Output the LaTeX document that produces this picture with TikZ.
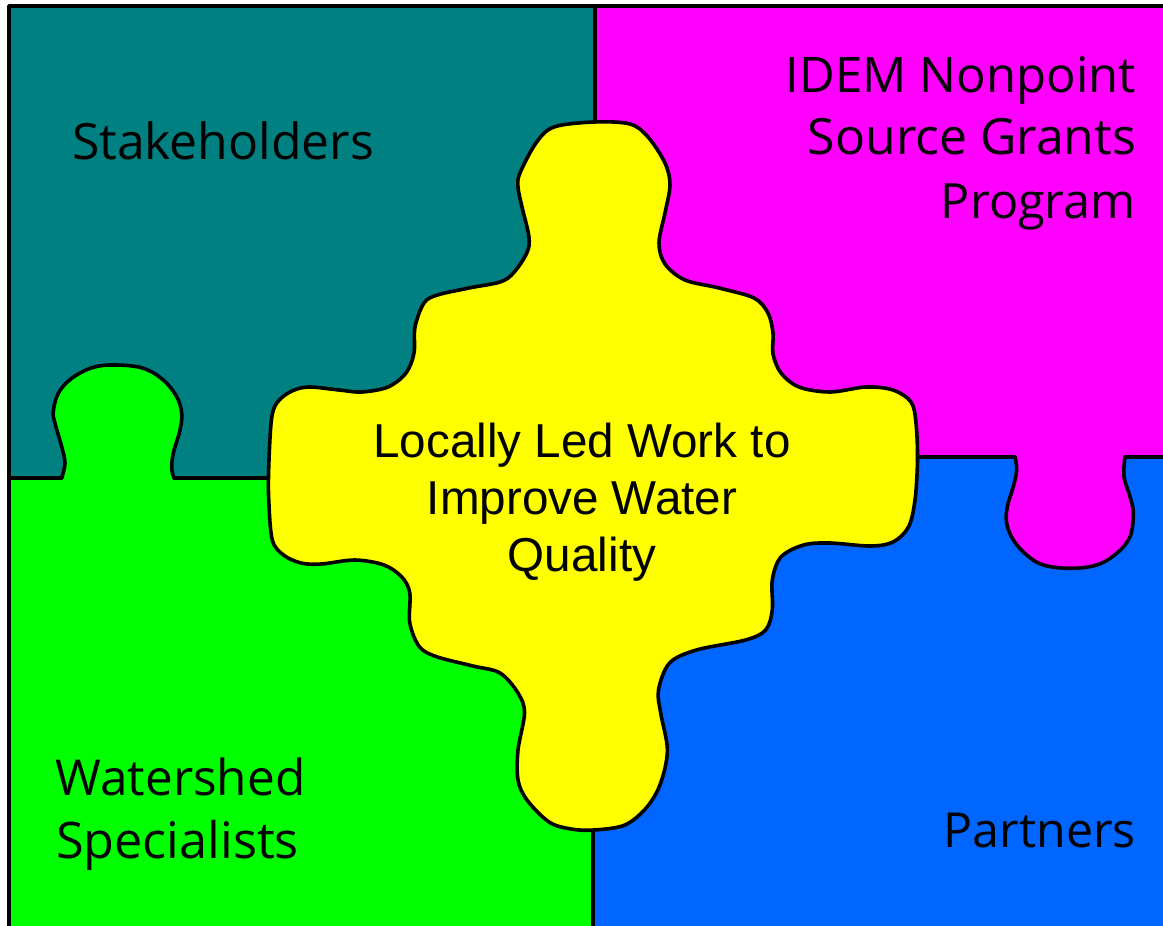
\documentclass[tikz,border=0pt]{standalone}
\usepackage{fontspec}
\usepackage{graphicx}
\newfontfamily\lblfont{Open Sans}
\newfontfamily\ctrfont{Liberation Sans}
\definecolor{tealc}{HTML}{008080}
\definecolor{magc}{HTML}{FF00FF}
\definecolor{greenc}{HTML}{00FF00}
\definecolor{bluec}{HTML}{0066FF}
\definecolor{yellowc}{HTML}{FFFF00}
\newcommand{\fitw}[2]{\resizebox{#1}{!}{\lblfont #2}}
\newcommand{\ctrtxt}[1]{\ctrfont\fontsize{47.6}{57}\selectfont #1}
\tikzset{
  edge/.style={line width=3.6pt, line join=round, line cap=round, draw=black},
  lbl/.style={inner sep=0pt, outer sep=0pt},
}
\begin{document}
\begin{tikzpicture}[x=1pt,y=-1pt]
\useasboundingbox (0,0) rectangle (1163,926);
\clip (0,0) rectangle (1163,926);
\fill[white] (0,0) rectangle (1163,926);
% quadrants
\fill[tealc] (9,6) rectangle (595,478);
\fill[magc] (595,6) rectangle (1170,457);
\fill[greenc] (9,478) rectangle (593,930);
\fill[bluec] (593,457) rectangle (1170,930);
% green tab
\fill[greenc] plot[smooth, tension=0.6] coordinates {(61.7,478) (65,463.3) (61.7,446.7) (55,423.3) (53.3,411.7) (58.3,393.3) (71.7,378.3) (93.3,367.3) (116.7,365) (143.3,368.3) (163.3,380) (176.7,396.7) (181.7,413.3) (180,430) (173.3,453.3) (171.7,468.3) (174,478)} -- cycle;
% magenta tab
\fill[magc] plot[smooth, tension=0.6] coordinates {(1015,457) (1016.7,470) (1013.3,486.7) (1007.3,506.7) (1006.7,523.3) (1013.3,540) (1026.7,555) (1043.3,565) (1070,568.3) (1096.7,565) (1116.7,553.3) (1130,536.7) (1133.3,513.3) (1130,496.7) (1124,476.7) (1125,457)} -- cycle;
% dividers
\draw[edge] (595,6) -- (595,130);
\draw[edge] (593,820) -- (593,930);
\draw[edge] (9,478) -- (61.7,478);
\draw[edge] plot[smooth, tension=0.6] coordinates {(61.7,478) (65,463.3) (61.7,446.7) (55,423.3) (53.3,411.7) (58.3,393.3) (71.7,378.3) (93.3,367.3) (116.7,365) (143.3,368.3) (163.3,380) (176.7,396.7) (181.7,413.3) (180,430) (173.3,453.3) (171.7,468.3) (174,478)};
\draw[edge] (174,478) -- (272,478);
\draw[edge] (912,457) -- (1015,457);
\draw[edge] plot[smooth, tension=0.6] coordinates {(1015,457) (1016.7,470) (1013.3,486.7) (1007.3,506.7) (1006.7,523.3) (1013.3,540) (1026.7,555) (1043.3,565) (1070,568.3) (1096.7,565) (1116.7,553.3) (1130,536.7) (1133.3,513.3) (1130,496.7) (1124,476.7) (1125,457)};
\draw[edge] (1125,457) -- (1170,457);
% yellow centre piece
\filldraw[edge, fill=yellowc] plot[smooth cycle, tension=0.55] coordinates {
(594,122) (630,124) (648,137) (665,163) (670,185) (665,213) (659,243) (665,264) (685,280) (719,288) (754,298) (768,313) (773,333) (773,354) (781,373) (799,387) (830,392) (866,387) (893,390) (911,402) (916,423) (917.5,460) (915,500) (908.5,527) (893,542) (870,546) (830,543) (803.6,545) (781,557) (772.3,580) (772.3,610) (765.6,630) (745.5,640) (696.4,650) (669.6,663) (658.5,690) (660.7,713) (667.4,750) (660.7,783) (647,807) (625,825) (594,830) (571,829) (549,822) (527,800) (518,780) (518,750) (524.5,713) (518,693) (500,673) (473,666) (437.5,657) (419.6,647) (409.8,623) (409.8,593) (401.8,577) (384,565) (355,560) (321.4,564) (301,563) (283.5,555) (272.3,540) (268.75,500) (268.75,467) (271.4,420) (276.8,403) (290,392) (308,387) (339,390) (361.6,392) (388,387) (406,373) (414,353) (415,327) (424,303) (437.5,295) (469,288) (500,282) (513.4,273) (526.8,253) (529,237) (522,207) (518,187) (520,173) (536,143) (554,127)};
% outer frame
\draw[edge] (9,930) -- (9,6) -- (1170,6);
% labels
\node[lbl, anchor=base west] (stake) at (72,159) {\fitw{302pt}{Stakeholders}};
\node[lbl, anchor=base east] (idem1) at (1136,92) {\fitw{350pt}{IDEM Nonpoint}};
\node[lbl, anchor=base east] (idem2) at (1136,154) {\fitw{328pt}{Source Grants}};
\node[lbl, anchor=base east] (idem3) at (1136,218) {\fitw{195pt}{Program}};
\node[lbl, anchor=base west] (ws1) at (55.5,795) {\fitw{250pt}{Watershed}};
\node[lbl, anchor=base west] (ws2) at (56,858) {\fitw{243pt}{Specialists}};
\node[lbl, anchor=base east] (part) at (1136,847) {\fitw{192pt}{Partners}};
\node[lbl, anchor=base] (c1) at (582,457) {\ctrtxt{Locally Led Work to}};
\node[lbl, anchor=base] (c2) at (582,514) {\ctrtxt{Improve Water}};
\node[lbl, anchor=base] (c3) at (582,571) {\ctrtxt{Quality}};
\end{tikzpicture}
\end{document}
